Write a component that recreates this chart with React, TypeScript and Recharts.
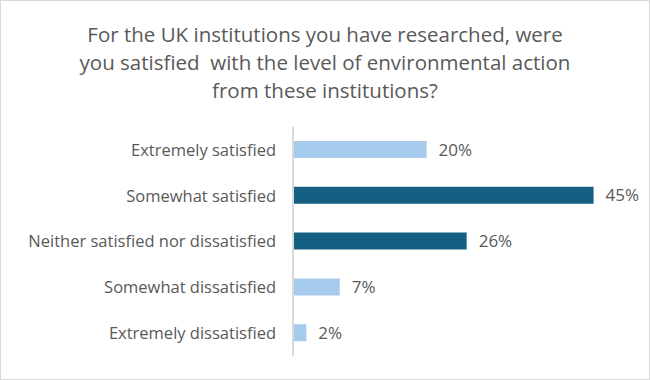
import * as React from 'react'
import { Bar, BarChart, Cell, LabelList, XAxis, YAxis } from 'recharts'

const categories = [
  'Extremely satisfied',
  'Somewhat satisfied',
  'Neither satisfied nor dissatisfied',
  'Somewhat dissatisfied',
  'Extremely dissatisfied',
]
const percents = [20, 45, 26, 7, 2]
const barColors = ['#A6CAEC', '#156082', '#156082', '#A6CAEC', '#A6CAEC']

const titleLines = [
  'For the UK institutions you have researched, were',
  'you satisfied  with the level of environmental action',
  'from these institutions?',
]

const data = categories.map((name, i) => ({ name, value: percents[i] }))

const font = '"Open Sans", "Noto Sans", sans-serif'
const textColor = '#595959'

export default function App() {
  return (
    <div
      style={{
        position: 'fixed',
        left: 0,
        top: 0,
        width: 650,
        height: 380,
        boxSizing: 'border-box',
        border: '1px solid #D9D9D9',
        background: '#fff',
        fontFamily: font,
      }}
    >
      <div
        style={{
          position: 'absolute',
          top: 19,
          left: 0,
          width: 648,
          textAlign: 'center',
          color: textColor,
          fontSize: 20.5,
          lineHeight: '28px',
        }}
      >
        {titleLines.map((t) => (
          <div key={t} style={{ whiteSpace: 'pre' }}>{t}</div>
        ))}
      </div>
      <BarChart
        width={648}
        height={378}
        data={data}
        layout="vertical"
        margin={{ top: 126, right: 22, bottom: 23, left: 0 }}
        style={{ position: 'absolute', top: 0, left: 0 }}
      >
        <XAxis type="number" domain={[0, 50]} hide />
        <YAxis
          type="category"
          dataKey="name"
          width={292}
          tickSize={0}
          tickMargin={17}
          axisLine={{ stroke: '#D9D9D9', strokeWidth: 2 }}
          tick={{ fill: textColor, fontSize: 16.5, fontFamily: font }}
          interval={0}
        />
        <Bar dataKey="value" barSize={17} isAnimationActive={false}>
          {data.map((d, i) => (
            <Cell key={d.name} fill={barColors[i]} />
          ))}
          <LabelList
            dataKey="value"
            position="right"
            offset={12}
            formatter={(v: number) => `${v}%`}
            style={{ fill: textColor, fontSize: 17, fontFamily: font }}
          />
        </Bar>
      </BarChart>
    </div>
  )
}
